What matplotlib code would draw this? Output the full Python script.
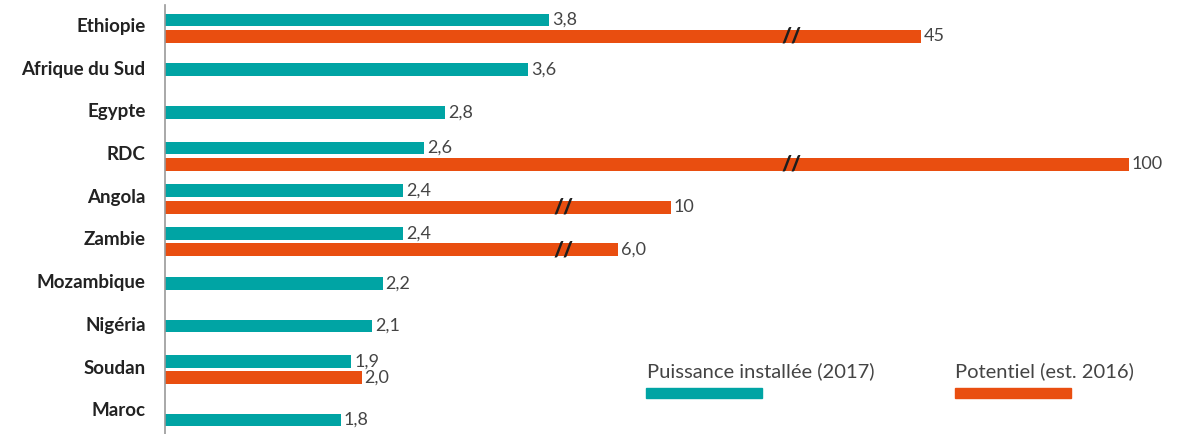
import numpy as np
import matplotlib
matplotlib.use("Agg")
import matplotlib.pyplot as plt

# Données (GW)
pays = ["Ethiopie", "Afrique du Sud", "Egypte", "RDC", "Angola",
        "Zambie", "Mozambique", "Nigéria", "Soudan", "Maroc"]
installee = [3.8, 3.6, 2.8, 2.6, 2.4, 2.4, 2.2, 2.1, 1.9, 1.8]
potentiel = [45, None, None, 100, 10, 6.0, None, None, 2.0, None]
lab_inst = ["3,8", "3,6", "2,8", "2,6", "2,4", "2,4", "2,2", "2,1", "1,9", "1,8"]
lab_pot = ["45", None, None, "100", "10", "6,0", None, None, "2,0", None]

# échelle "cassée" : valeur -> longueur affichée (px depuis l'axe)
knot_val = [0, 1.8, 3.8, 6, 10, 45, 100]
knot_px = [0, 176, 384, 453, 506, 756, 964]

def fwd(v):
    return np.interp(v, knot_val, knot_px)

def inv(p):
    return np.interp(p, knot_px, knot_val)

teal = "#00A4A4"
orange = "#E94E10"
txt_col = "#444444"

plt.rcParams["font.family"] = ["Lato", "DejaVu Sans"]

fig = plt.figure(figsize=(11.96, 4.34), dpi=100)
ax = fig.add_axes([165 / 1196, 0, (1129 - 165) / 1196, 429 / 434])
ax.set_xscale("function", functions=(fwd, inv))
ax.set_xlim(0, 100)
ax.set_ylim(9.58, -0.47)

h = 0.30
for i, p in enumerate(pays):
    if potentiel[i] is not None:
        yt, yo = i - 0.12, i + 0.265
    else:
        yt, yo = i + 0.05 + (0.2 if i == len(pays) - 1 else 0), None
    ax.barh(yt, installee[i], height=h, color=teal)
    ax.annotate(lab_inst[i], (installee[i], yt), xytext=(2, 0),
                textcoords="offset points", va="center", ha="left",
                fontsize=13, color=txt_col)
    if yo is not None:
        ax.barh(yo, potentiel[i], height=h, color=orange)
        ax.annotate(lab_pot[i], (potentiel[i], yo), xytext=(2, 0),
                    textcoords="offset points", va="center", ha="left",
                    fontsize=13, color=txt_col)
        # marque de rupture
        if potentiel[i] > 5:
            bx = inv(626) if potentiel[i] > 20 else inv(398)
            ax.text(bx, yo, "//", ha="center", va="center", fontsize=15,
                    fontweight="heavy", color="#1e1e1e")

ax.set_yticks(range(len(pays)))
ax.set_yticklabels(pays, fontsize=13.5, fontweight="bold", color="#222222")
ax.tick_params(axis="y", length=0, pad=14)
ax.set_xticks([])
ax.xaxis.set_minor_locator(matplotlib.ticker.NullLocator())
for s in ["top", "right", "bottom"]:
    ax.spines[s].set_visible(False)
ax.spines["left"].set_color("#999999")
ax.spines["left"].set_linewidth(1.2)

# légende
fig.text(647 / 1196, 1 - 371 / 434, "Puissance installée (2017)", fontsize=14.5,
         color=txt_col, va="center", ha="left")
fig.text(955 / 1196, 1 - 371 / 434, "Potentiel (est. 2016)", fontsize=14.5,
         color=txt_col, va="center", ha="left")
fig.patches.append(plt.Rectangle((646 / 1196, 1 - 398 / 434), 116 / 1196, 10 / 434,
                                 color=teal, transform=fig.transFigure))
fig.patches.append(plt.Rectangle((955 / 1196, 1 - 398 / 434), 116 / 1196, 10 / 434,
                                 color=orange, transform=fig.transFigure))

fig.savefig("out.png", dpi=100)
